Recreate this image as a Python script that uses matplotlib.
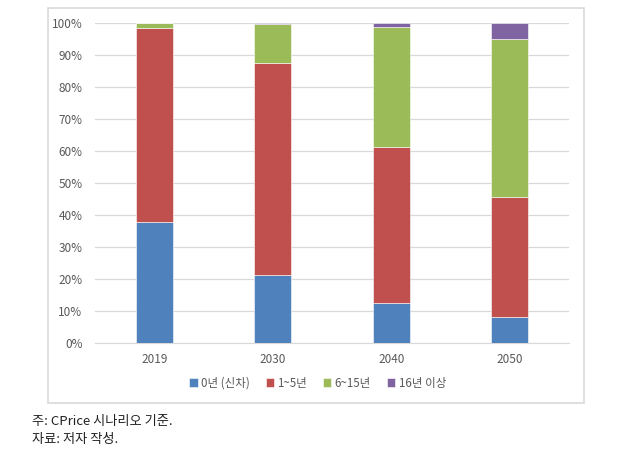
import matplotlib
matplotlib.use("Agg")
import matplotlib.pyplot as plt
from matplotlib.patches import Rectangle
import numpy as np

plt.rcParams['font.family'] = ['Noto Sans CJK KR', 'DejaVu Sans']

years = ['2019', '2030', '2040', '2050']
labels = ['0년 (신차)', '1~5년', '6~15년', '16년 이상']
new_car = [37.8, 21.3, 12.4, 8.0]
age_1_5 = [60.5, 66.2, 48.9, 37.5]
age_6_15 = [1.7, 12.3, 37.5, 49.5]
age_16 = [0.0, 0.2, 1.2, 5.0]
colors = ['#4F81BD', '#C0504D', '#9BBB59', '#8064A2']

W, H = 638, 453
fig = plt.figure(figsize=(W / 100, H / 100), dpi=100)
ax = fig.add_axes([95 / W, 1 - 343 / H, (569 - 95) / W, (343 - 23) / H])

# chart frame
fig.patches.append(Rectangle((48 / W, 1 - 403 / H), (584 - 48) / W, (403 - 8) / H,
                             transform=fig.transFigure, fill=False,
                             edgecolor='#D9D9D9', linewidth=1.2))

x = np.arange(len(years))
bottom = np.zeros(len(years))
for vals, lab, c in zip([new_car, age_1_5, age_6_15, age_16], labels, colors):
    ax.bar(x, vals, width=0.315, bottom=bottom, color=c, label=lab,
           edgecolor='white', linewidth=0.4, zorder=3)
    bottom += np.array(vals)

ax.set_xlim(-0.5, len(years) - 0.5)
ax.set_ylim(0, 100)
ax.set_yticks(np.arange(0, 101, 10))
ax.set_yticklabels([f'{v}%' for v in range(0, 101, 10)])
ax.set_xticks(x)
ax.set_xticklabels(years)
ax.tick_params(axis='both', length=0, labelsize=8.5, colors='#595959', pad=7)
ax.tick_params(axis='y', pad=9)
ax.grid(axis='y', color='#D9D9D9', linewidth=0.9, zorder=0)
for s in ['top', 'right', 'left']:
    ax.spines[s].set_visible(False)
ax.spines['bottom'].set_color('#D9D9D9')

ax.legend(loc='center', bbox_to_anchor=(0.47, -0.125), ncol=4, frameon=False,
          fontsize=8.3, handlelength=0.7, handleheight=0.7, handletextpad=0.3,
          columnspacing=1.4, labelcolor='#595959')

fig.text(32 / W, 1 - 421 / H, '주: CPrice 시나리오 기준.', fontsize=9.5, va='center', color='#222222')
fig.text(32 / W, 1 - 440 / H, '자료: 저자 작성.', fontsize=9.5, va='center', color='#222222')

fig.savefig('out.png', dpi=100)
